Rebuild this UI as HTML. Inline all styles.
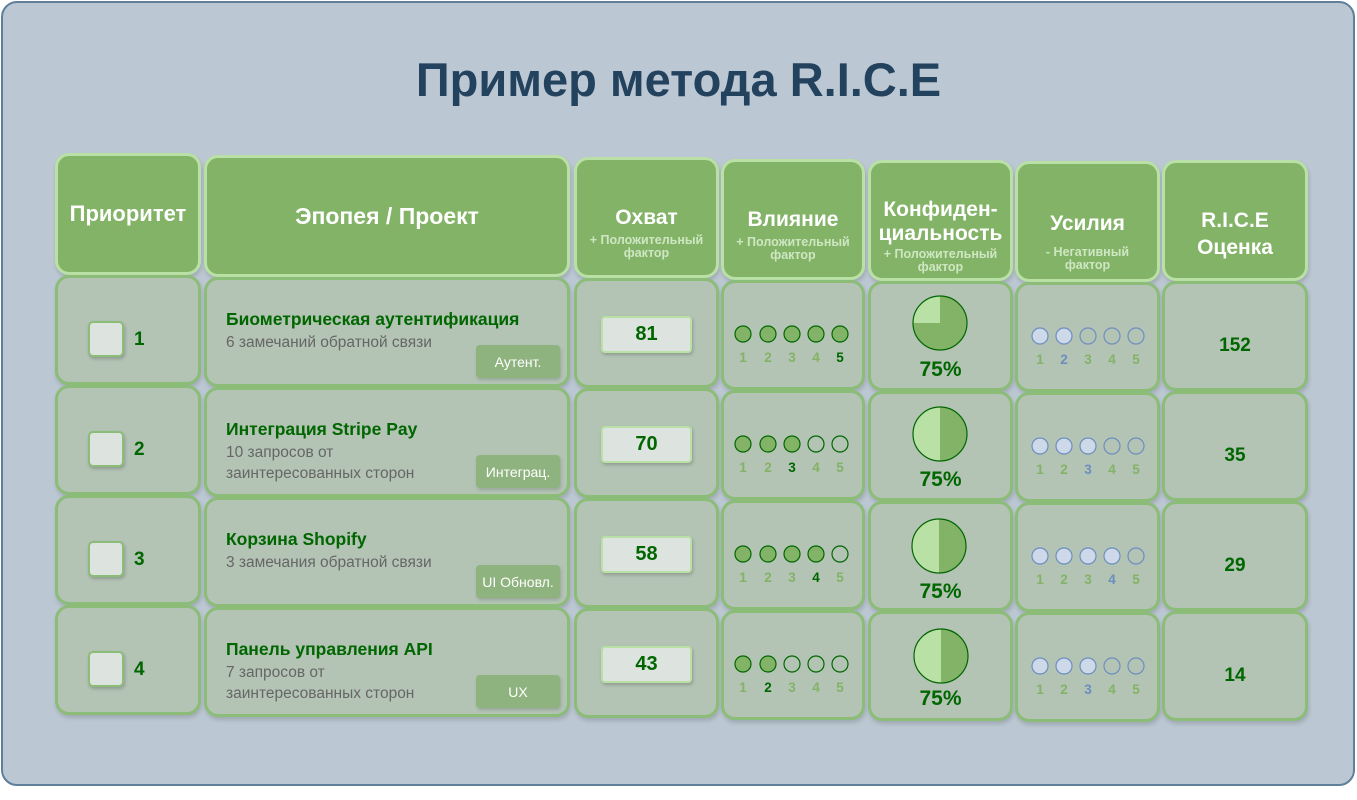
<!DOCTYPE html>
<html><head><meta charset="utf-8"><style>
*{box-sizing:border-box;margin:0;padding:0}
body{width:1357px;height:800px;background:#fff;position:relative;font-family:"Liberation Sans",Arial,sans-serif;overflow:hidden}
.frame{position:absolute;left:1px;top:1px;width:1354px;height:785px;background:#bbc7d2;border:2px solid #5f7f9a;border-radius:16px}
.title{position:absolute;left:0;width:1357px;top:52px;text-align:center;font-size:47px;font-weight:bold;color:#23425e}
.h{position:absolute;background:#82b366;border:3px solid #b9e0a5;border-radius:14px;color:#fff;text-align:center;display:flex;flex-direction:column;justify-content:center;align-items:center;box-shadow:1px 3px 4px rgba(0,0,0,.15)}
.h b{font-size:21px;line-height:24px}
.h s{text-decoration:none;font-size:12.5px;font-weight:bold;color:#cfe6c3;line-height:13px;margin-top:4px;white-space:nowrap}
.c{position:absolute;background:#b3c3b4;border:3px solid #8cbd78;border-radius:14px;box-shadow:1px 3px 4px rgba(0,0,0,.15)}
.cb{position:absolute;left:30px;top:43px;width:36px;height:36px;background:#dde3de;border:2px solid #8cbd78;border-radius:5px;box-shadow:1px 2px 3px rgba(0,0,0,.2)}
.pn{position:absolute;left:76px;top:51px;font-size:19px;font-weight:bold;color:#006600}
.et{position:absolute;left:19px;top:29px;font-size:17.5px;font-weight:bold;color:#006600;white-space:nowrap}
.es{position:absolute;left:19px;top:52px;font-size:15.5px;color:#666;line-height:21px;width:260px}
.tag{position:absolute;left:269px;top:65px;width:84px;height:33px;background:#8fb37f;border-radius:4px;color:#fff;font-size:14px;display:flex;align-items:center;justify-content:center;box-shadow:1px 2px 3px rgba(0,0,0,.15);white-space:nowrap}
.rb{position:absolute;left:24px;top:35px;width:91px;height:37px;background:#dde3de;border:2px solid #b9e0a5;border-radius:4px;box-shadow:1px 2px 3px rgba(0,0,0,.2);font-size:20px;font-weight:bold;color:#006600;text-align:center;line-height:33px}
.rice{position:absolute;left:0;width:100%;top:51px;text-align:center;font-size:19px;font-weight:bold;color:#006600}
.pc{position:absolute;left:0;width:100%;top:74px;text-align:center;font-size:21px;font-weight:bold;color:#006600}
svg{position:absolute;left:0;top:0}
</style></head><body>
<div class="frame"></div>
<div class="title">Пример метода R.I.C.E</div>

<div class="h" style="left:55px;top:153px;width:146px;height:122px"><b style="font-size:22px">Приоритет</b></div>
<div class="h" style="left:204px;top:155px;width:366px;height:122px"><b style="font-size:23px">Эпопея / Проект</b></div>
<div class="h" style="left:574px;top:157px;width:145px;height:121px;padding-top:30px"><b>Охват</b><s>+ Положительный<br>фактор</s></div>
<div class="h" style="left:721px;top:159px;width:144px;height:121px;padding-top:30px"><b>Влияние</b><s>+ Положительный<br>фактор</s></div>
<div class="h" style="left:868px;top:160px;width:145px;height:121px;padding-top:30px"><b>Конфиден-<br>циальность</b><s style="margin-top:2px">+ Положительный<br>фактор</s></div>
<div class="h" style="left:1015px;top:161px;width:145px;height:121px;padding-top:40px"><b>Усилия</b><s style="margin-top:10px">- Негативный<br>фактор</s></div>
<div class="h" style="left:1162px;top:160px;width:146px;height:121px;padding-top:26px"><b style="line-height:27px">R.I.C.E<br>Оценка</b></div>

<!-- Priority -->
<div class="c" style="left:55px;top:275px;width:146px;height:110px"><div class="cb"></div><div class="pn">1</div></div>
<div class="c" style="left:55px;top:385px;width:146px;height:110px"><div class="cb"></div><div class="pn">2</div></div>
<div class="c" style="left:55px;top:495px;width:146px;height:110px"><div class="cb"></div><div class="pn">3</div></div>
<div class="c" style="left:55px;top:605px;width:146px;height:110px"><div class="cb"></div><div class="pn">4</div></div>

<!-- Epic -->
<div class="c" style="left:204px;top:277px;width:366px;height:110px"><div class="et">Биометрическая аутентификация</div><div class="es">6 замечаний обратной связи</div><div class="tag">Аутент.</div></div>
<div class="c" style="left:204px;top:387px;width:366px;height:110px"><div class="et">Интеграция Stripe Pay</div><div class="es">10 запросов от<br>заинтересованных сторон</div><div class="tag">Интеграц.</div></div>
<div class="c" style="left:204px;top:497px;width:366px;height:110px"><div class="et">Корзина Shopify</div><div class="es">3 замечания обратной связи</div><div class="tag">UI Обновл.</div></div>
<div class="c" style="left:204px;top:607px;width:366px;height:110px"><div class="et">Панель управления API</div><div class="es">7 запросов от<br>заинтересованных сторон</div><div class="tag">UX</div></div>

<!-- Reach -->
<div class="c" style="left:574px;top:278px;width:145px;height:110px"><div class="rb">81</div></div>
<div class="c" style="left:574px;top:388px;width:145px;height:110px"><div class="rb">70</div></div>
<div class="c" style="left:574px;top:498px;width:145px;height:110px"><div class="rb">58</div></div>
<div class="c" style="left:574px;top:608px;width:145px;height:110px"><div class="rb">43</div></div>

<!-- Impact -->
<div class="c" style="left:721px;top:280px;width:144px;height:110px"><svg width="144" height="110" font-family="Liberation Sans" font-weight="bold" font-size="13.5" text-anchor="middle">
<g stroke="#006600" stroke-width="1.2" fill="#82b366"><circle cx="19" cy="51" r="8"/><circle cx="44" cy="51" r="8"/><circle cx="68" cy="51" r="8"/><circle cx="92" cy="51" r="8"/><circle cx="116" cy="51" r="8"/></g>
<g fill="#82b366"><text x="19" y="79">1</text><text x="44" y="79">2</text><text x="68" y="79">3</text><text x="92" y="79">4</text><text x="116" y="79" fill="#006600">5</text></g></svg></div>
<div class="c" style="left:721px;top:390px;width:144px;height:110px"><svg width="144" height="110" font-family="Liberation Sans" font-weight="bold" font-size="13.5" text-anchor="middle">
<g stroke="#006600" stroke-width="1.2" fill="#82b366"><circle cx="19" cy="51" r="8"/><circle cx="44" cy="51" r="8"/><circle cx="68" cy="51" r="8"/><circle cx="92" cy="51" r="8" fill="none"/><circle cx="116" cy="51" r="8" fill="none"/></g>
<g fill="#82b366"><text x="19" y="79">1</text><text x="44" y="79">2</text><text x="68" y="79" fill="#006600">3</text><text x="92" y="79">4</text><text x="116" y="79">5</text></g></svg></div>
<div class="c" style="left:721px;top:500px;width:144px;height:110px"><svg width="144" height="110" font-family="Liberation Sans" font-weight="bold" font-size="13.5" text-anchor="middle">
<g stroke="#006600" stroke-width="1.2" fill="#82b366"><circle cx="19" cy="51" r="8"/><circle cx="44" cy="51" r="8"/><circle cx="68" cy="51" r="8"/><circle cx="92" cy="51" r="8"/><circle cx="116" cy="51" r="8" fill="none"/></g>
<g fill="#82b366"><text x="19" y="79">1</text><text x="44" y="79">2</text><text x="68" y="79">3</text><text x="92" y="79" fill="#006600">4</text><text x="116" y="79">5</text></g></svg></div>
<div class="c" style="left:721px;top:610px;width:144px;height:110px"><svg width="144" height="110" font-family="Liberation Sans" font-weight="bold" font-size="13.5" text-anchor="middle">
<g stroke="#006600" stroke-width="1.2" fill="#82b366"><circle cx="19" cy="51" r="8"/><circle cx="44" cy="51" r="8"/><circle cx="68" cy="51" r="8" fill="none"/><circle cx="92" cy="51" r="8" fill="none"/><circle cx="116" cy="51" r="8" fill="none"/></g>
<g fill="#82b366"><text x="19" y="79">1</text><text x="44" y="79" fill="#006600">2</text><text x="68" y="79">3</text><text x="92" y="79">4</text><text x="116" y="79">5</text></g></svg></div>

<!-- Confidence -->
<div class="c" style="left:868px;top:281px;width:145px;height:110px"><svg width="145" height="110"><circle cx="69" cy="39" r="27" fill="#82b366"/><path d="M69 39 L69 12 A27 27 0 0 0 42 39 Z" fill="#b9e0a5"/><circle cx="69" cy="39" r="27" fill="none" stroke="#006600" stroke-width="1.2"/></svg><div class="pc">75%</div></div>
<div class="c" style="left:868px;top:391px;width:145px;height:110px"><svg width="145" height="110"><circle cx="69" cy="40" r="27" fill="#82b366"/><path d="M69 13 A27 27 0 0 0 69 67 Z" fill="#b9e0a5"/><circle cx="69" cy="40" r="27" fill="none" stroke="#006600" stroke-width="1.2"/></svg><div class="pc">75%</div></div>
<div class="c" style="left:868px;top:501px;width:145px;height:110px"><svg width="145" height="110"><circle cx="68" cy="42" r="27" fill="#82b366"/><path d="M68 15 A27 27 0 0 0 68 69 Z" fill="#b9e0a5"/><circle cx="68" cy="42" r="27" fill="none" stroke="#006600" stroke-width="1.2"/></svg><div class="pc" style="top:76px">75%</div></div>
<div class="c" style="left:868px;top:611px;width:145px;height:110px"><svg width="145" height="110"><circle cx="70" cy="42" r="27" fill="#82b366"/><path d="M70 15 A27 27 0 0 0 70 69 Z" fill="#b9e0a5"/><circle cx="70" cy="42" r="27" fill="none" stroke="#006600" stroke-width="1.2"/></svg><div class="pc" style="top:73px">75%</div></div>

<!-- Effort -->
<div class="c" style="left:1015px;top:282px;width:145px;height:110px"><svg width="145" height="110" font-family="Liberation Sans" font-weight="bold" font-size="13.5" text-anchor="middle">
<g stroke="#6c8ebf" stroke-width="1.2" fill="none"><circle cx="22" cy="51" r="8" fill="#cdd8e8"/><circle cx="46" cy="51" r="8" fill="#cdd8e8"/><circle cx="70" cy="51" r="8"/><circle cx="94" cy="51" r="8"/><circle cx="118" cy="51" r="8"/></g>
<g fill="#82b366"><text x="22" y="79">1</text><text x="46" y="79" fill="#6c8ebf">2</text><text x="70" y="79">3</text><text x="94" y="79">4</text><text x="118" y="79">5</text></g></svg></div>
<div class="c" style="left:1015px;top:392px;width:145px;height:110px"><svg width="145" height="110" font-family="Liberation Sans" font-weight="bold" font-size="13.5" text-anchor="middle">
<g stroke="#6c8ebf" stroke-width="1.2" fill="none"><circle cx="22" cy="51" r="8" fill="#cdd8e8"/><circle cx="46" cy="51" r="8" fill="#cdd8e8"/><circle cx="70" cy="51" r="8" fill="#cdd8e8"/><circle cx="94" cy="51" r="8"/><circle cx="118" cy="51" r="8"/></g>
<g fill="#82b366"><text x="22" y="79">1</text><text x="46" y="79">2</text><text x="70" y="79" fill="#6c8ebf">3</text><text x="94" y="79">4</text><text x="118" y="79">5</text></g></svg></div>
<div class="c" style="left:1015px;top:502px;width:145px;height:110px"><svg width="145" height="110" font-family="Liberation Sans" font-weight="bold" font-size="13.5" text-anchor="middle">
<g stroke="#6c8ebf" stroke-width="1.2" fill="none"><circle cx="22" cy="51" r="8" fill="#cdd8e8"/><circle cx="46" cy="51" r="8" fill="#cdd8e8"/><circle cx="70" cy="51" r="8" fill="#cdd8e8"/><circle cx="94" cy="51" r="8" fill="#cdd8e8"/><circle cx="118" cy="51" r="8"/></g>
<g fill="#82b366"><text x="22" y="79">1</text><text x="46" y="79">2</text><text x="70" y="79">3</text><text x="94" y="79" fill="#6c8ebf">4</text><text x="118" y="79">5</text></g></svg></div>
<div class="c" style="left:1015px;top:612px;width:145px;height:110px"><svg width="145" height="110" font-family="Liberation Sans" font-weight="bold" font-size="13.5" text-anchor="middle">
<g stroke="#6c8ebf" stroke-width="1.2" fill="none"><circle cx="22" cy="51" r="8" fill="#cdd8e8"/><circle cx="46" cy="51" r="8" fill="#cdd8e8"/><circle cx="70" cy="51" r="8" fill="#cdd8e8"/><circle cx="94" cy="51" r="8"/><circle cx="118" cy="51" r="8"/></g>
<g fill="#82b366"><text x="22" y="79">1</text><text x="46" y="79">2</text><text x="70" y="79" fill="#6c8ebf">3</text><text x="94" y="79">4</text><text x="118" y="79">5</text></g></svg></div>

<!-- RICE -->
<div class="c" style="left:1162px;top:281px;width:146px;height:110px"><div class="rice">152</div></div>
<div class="c" style="left:1162px;top:391px;width:146px;height:110px"><div class="rice">35</div></div>
<div class="c" style="left:1162px;top:501px;width:146px;height:110px"><div class="rice">29</div></div>
<div class="c" style="left:1162px;top:611px;width:146px;height:110px"><div class="rice">14</div></div>
</body></html>
